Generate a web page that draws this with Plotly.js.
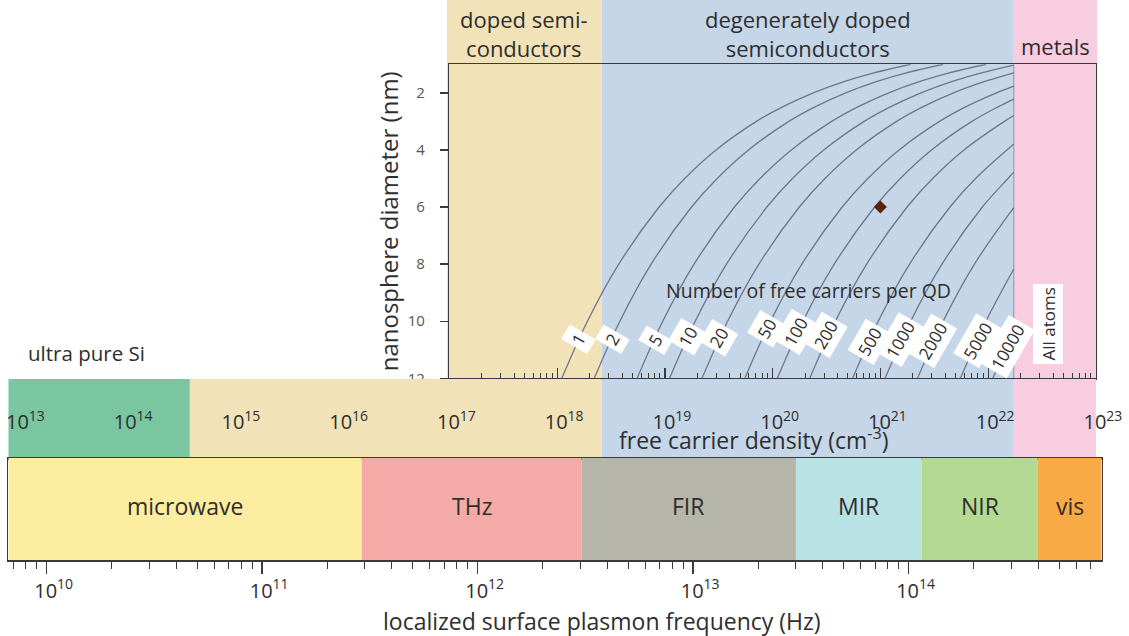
<!DOCTYPE html>
<html><head><meta charset="utf-8">
<script src="https://cdn.plot.ly/plotly-3.0.1.min.js"></script>
<style>html,body{margin:0;padding:0;background:#fff}#chart{width:1129px;height:636px}</style>
</head><body><div id="chart"></div>
<script>
// ---------------- data ----------------
const diameterNm = [12, 10, 8, 6, 5, 4, 3, 2.5, 2, 1.6, 1.3, 1.0];
const carrierLabels = ['1','2','5','10','20','50','100','200','500','1000','2000','5000','10000'];
// free carrier density (cm^-3) of each iso-carrier curve at the diameters above (null = inside metals region)
const curve1     = [1.105e18, 1.910e18, 3.730e18, 8.842e18, 1.528e19, 2.984e19, 7.074e19, 1.222e20, 2.387e20, 4.663e20, 8.693e20, 1.910e21];
const curve2     = [2.210e18, 3.820e18, 7.460e18, 1.768e19, 3.056e19, 5.968e19, 1.415e20, 2.444e20, 4.774e20, 9.326e20, 1.739e21, 3.820e21];
const curve5     = [5.525e18, 9.550e18, 1.865e19, 4.421e19, 7.640e19, 1.492e20, 3.537e20, 6.110e20, 1.194e21, 2.332e21, 4.347e21, 9.550e21];
const curve10    = [1.105e19, 1.910e19, 3.730e19, 8.842e19, 1.528e20, 2.984e20, 7.074e20, 1.222e21, 2.387e21, 4.663e21, 8.693e21, null];
const curve20    = [2.210e19, 3.820e19, 7.460e19, 1.768e20, 3.056e20, 5.968e20, 1.415e21, 2.444e21, 4.774e21, 9.326e21, null, null];
const curve50    = [5.525e19, 9.550e19, 1.865e20, 4.421e20, 7.640e20, 1.492e21, 3.537e21, 6.110e21, 1.194e22, null, null, null];
const curve100   = [1.105e20, 1.910e20, 3.730e20, 8.842e20, 1.528e21, 2.984e21, 7.074e21, 1.222e22, null, null, null, null];
const curve200   = [2.210e20, 3.820e20, 7.460e20, 1.768e21, 3.056e21, 5.968e21, 1.415e22, null, null, null, null, null];
const curve500   = [5.525e20, 9.550e20, 1.865e21, 4.421e21, 7.640e21, 1.492e22, null, null, null, null, null, null];
const curve1000  = [1.105e21, 1.910e21, 3.730e21, 8.842e21, 1.528e22, null, null, null, null, null, null, null];
const curve2000  = [2.210e21, 3.820e21, 7.460e21, null, null, null, null, null, null, null, null, null];
const curve5000  = [5.525e21, 9.550e21, null, null, null, null, null, null, null, null, null, null];
const curve10000 = [1.105e22, null, null, null, null, null, null, null, null, null, null, null];
const densityCurves = [curve1, curve2, curve5, curve10, curve20, curve50, curve100, curve200, curve500, curve1000, curve2000, curve5000, curve10000];
// diameter at which each curve meets the metals boundary (null = reaches 1 nm)
const edgeDiameter = [null, null, null, 1.029, 1.297, 1.761, 2.218, 2.795, 3.793, 4.779, 6.021, 8.172, 10.296];
const metalsOnset = 1.73e22;
const sampleDensity = [1e21];
const sampleDiameter = [6];

const columnNames = ['doped semi-<br>conductors', 'degenerately doped<br>semiconductors', 'metals'];
const columnEdges = [9.5e16, 2.6e18, 1.73e22, 1.036e23];
const densityBandNames = ['ultra pure Si', 'doped', 'degenerate', 'metals'];
const densityBandEdges = [8.05e12, 3.9e14, 2.6e18, 1.73e22, 1.0e23];
const freqBandNames = ['microwave', 'THz', 'FIR', 'MIR', 'NIR', 'vis'];
const freqBandEdges = [6.64e9, 2.9e11, 3.03e12, 3.0e13, 1.15e14, 3.97e14, 7.87e14];
const densityTickVals = [1e13,1e14,1e15,1e16,1e17,1e18,1e19,1e20,1e21,1e22,1e23];
const densityTickText = ['10<sup>13</sup>','10<sup>14</sup>','10<sup>15</sup>','10<sup>16</sup>','10<sup>17</sup>','10<sup>18</sup>','10<sup>19</sup>','10<sup>20</sup>','10<sup>21</sup>','10<sup>22</sup>','10<sup>23</sup>'];
const freqTickVals = [1e10,1e11,1e12,1e13,1e14];
const freqTickText = ['10<sup>10</sup>','10<sup>11</sup>','10<sup>12</sup>','10<sup>13</sup>','10<sup>14</sup>'];
const diameterTicks = [2,4,6,8,10,12];

// ---------------- styles ----------------
const columnColors = ['#f2e2b8', '#c5d6e8', '#f8cde0'];
const densityBandColors = ['#79c6a1', '#f2e2b8', '#c5d6e8', '#f8cde0'];
const freqBandColors = ['#fdeda0', '#f4aaa6', '#b5b5aa', '#b9e2e5', '#b4d993', '#f7aa45'];
const TXT = '#2e2e2e';
const W = 1129, H = 636;
const px = v => v / W;
const py = v => 1 - v / H;
const FONT = 'Open Sans, Lato, sans-serif';

function minorTicks(lo, hi) {
  const out = [];
  for (let e = lo; e <= hi; e++) for (let k = 2; k <= 9; k++) out.push(k * Math.pow(10, e));
  return out;
}

const traces = [];
function rect(xa, ya, lo, hi, color) {
  traces.push({x: [lo, hi, hi, lo, lo], y: [0, 0, 1, 1, 0], xaxis: xa, yaxis: ya, mode: 'lines',
    fill: 'toself', fillcolor: color, line: {width: 0, color: 'rgba(0,0,0,0)'}, hoverinfo: 'skip', showlegend: false});
}
for (let i = 0; i < columnNames.length; i++) rect('x', 'y', columnEdges[i], columnEdges[i+1], columnColors[i]);
for (let i = 0; i < densityBandNames.length; i++) rect('x3', 'y3', densityBandEdges[i], densityBandEdges[i+1], densityBandColors[i]);
for (let i = 0; i < freqBandNames.length; i++) rect('x5', 'y5', freqBandEdges[i], freqBandEdges[i+1], freqBandColors[i]);

// dummy for the label-only density axis
traces.push({x: [1e15], y: [0.5], xaxis: 'x4', yaxis: 'y3', mode: 'markers', marker: {opacity: 0}, hoverinfo: 'skip', showlegend: false});

// metals boundary line in top plot
traces.push({x: [metalsOnset, metalsOnset], y: [1, 12], xaxis: 'x2', yaxis: 'y2', mode: 'lines',
  line: {color: '#8b91b3', width: 1}, hoverinfo: 'skip', showlegend: false});

// iso-carrier curves
densityCurves.forEach((c, i) => {
  const xs = [], ys = [];
  c.forEach((v, j) => { if (v !== null) { xs.push(v); ys.push(diameterNm[j]); } });
  if (edgeDiameter[i] !== null) { xs.push(metalsOnset); ys.push(edgeDiameter[i]); }
  traces.push({x: xs, y: ys, xaxis: 'x2', yaxis: 'y2', mode: 'lines', name: carrierLabels[i],
    line: {color: '#6f7589', width: 1.3, shape: 'spline', smoothing: 1}, hoverinfo: 'skip', showlegend: false});
});
traces.push({x: sampleDensity, y: sampleDiameter, xaxis: 'x2', yaxis: 'y2', mode: 'markers',
  marker: {symbol: 'diamond', size: 10, color: '#5a2208'}, hoverinfo: 'skip', showlegend: false});

const hidden = {showgrid: false, zeroline: false, showticklabels: false, ticks: '', showline: false};
const lineC = '#3a3a3a';

const layout = {
  width: W, height: H, margin: {l: 0, r: 0, t: 0, b: 0},
  paper_bgcolor: '#fff', plot_bgcolor: 'rgba(0,0,0,0)',
  font: {family: FONT, color: TXT}, showlegend: false, hovermode: false,
  // column backgrounds (top region)
  xaxis: Object.assign({}, hidden, {type: 'log', domain: [px(447), px(1097.5)], range: [16.978, 23.015], anchor: 'y'}),
  yaxis: Object.assign({}, hidden, {domain: [py(378.5), 1], range: [0, 1], anchor: 'x'}),
  // top plot
  xaxis2: {type: 'log', domain: [px(449.4), px(1095.9)], range: [17, 23], anchor: 'y2',
    showline: true, mirror: true, linecolor: lineC, linewidth: 1.5, showgrid: false, zeroline: false,
    ticks: 'inside', ticklen: 10, tickwidth: 1.3, tickcolor: lineC, tickmode: 'array', tickvals: densityTickVals, showticklabels: false,
    minor: {ticks: 'inside', ticklen: 5, tickwidth: 1, tickcolor: lineC, tickmode: 'array', tickvals: minorTicks(17, 22)}},
  yaxis2: {domain: [py(378.3), py(64.3)], range: [12, 1], anchor: 'x2',
    showline: true, mirror: true, linecolor: lineC, linewidth: 1.5, showgrid: false, zeroline: false,
    ticks: 'outside', ticklen: 8, tickwidth: 1.3, tickcolor: lineC, tickmode: 'array', tickvals: diameterTicks,
    tickfont: {size: 15, color: '#555'}, ticklabelstandoff: 12,
    title: {text: 'nanosphere diameter (nm)', font: {size: 24, color: TXT}, standoff: 2}},
  // middle band
  xaxis3: {type: 'log', domain: [px(8.3), px(1101.7)], range: [12.906, 23.054], anchor: 'y3',
    showline: true, linecolor: lineC, linewidth: 1.5, showgrid: false, zeroline: false,
    ticks: 'outside', ticklen: 12, tickwidth: 1.3, tickcolor: lineC, tickmode: 'array', tickvals: densityTickVals, showticklabels: false,
    minor: {ticks: 'outside', ticklen: 7, tickwidth: 1, tickcolor: lineC, tickmode: 'array', tickvals: minorTicks(12, 22)}},
  yaxis3: Object.assign({}, hidden, {domain: [py(458), py(379)], range: [0, 1], anchor: 'x3'}),
  xaxis4: {type: 'log', domain: [px(8.3), px(1101.7)], range: [12.906, 23.054], anchor: 'free', position: py(408), overlaying: 'x3',
    showline: false, showgrid: false, zeroline: false, ticks: '', tickmode: 'array', tickvals: densityTickVals, ticktext: densityTickText,
    tickfont: {size: 20, color: TXT}, ticklabeloverflow: 'allow', ticklabelshift: 7},
  // bottom band
  xaxis5: {type: 'log', domain: [px(8.3), px(1101.7)], range: [9.822, 14.896], anchor: 'y5',
    showline: true, mirror: true, linecolor: lineC, linewidth: 1.5, showgrid: false, zeroline: false,
    ticks: 'outside', ticklen: 12, tickwidth: 1.3, tickcolor: lineC, tickmode: 'array', tickvals: freqTickVals, ticktext: freqTickText,
    tickfont: {size: 20, color: TXT}, ticklabelshift: 7, ticklabeloverflow: 'allow',
    minor: {ticks: 'outside', ticklen: 7, tickwidth: 1, tickcolor: lineC, tickmode: 'array', tickvals: minorTicks(9, 14)}},
  yaxis5: {domain: [py(560), py(458)], range: [0, 1], anchor: 'x5', showline: true, mirror: true, linecolor: lineC, linewidth: 1.5,
    showgrid: false, zeroline: false, ticks: '', showticklabels: false},
  annotations: []
};

const ann = layout.annotations;
function note(o) { ann.push(Object.assign({showarrow: false, xanchor: 'center', yanchor: 'middle'}, o)); }
// column labels
columnNames.forEach((t, i) => {
  const c = (Math.log10(columnEdges[i]) + Math.log10(columnEdges[i+1])) / 2;
  note({xref: 'x', yref: 'paper', x: c, y: i === 2 ? py(46) : py(33), text: t, font: {size: 22, color: TXT}});
});
// frequency band labels
freqBandNames.forEach((t, i) => {
  const c = (Math.log10(freqBandEdges[i]) + Math.log10(freqBandEdges[i+1])) / 2;
  note({xref: 'x5', yref: 'paper', x: c, y: py(506), text: t, font: {size: 23, color: TXT}});
});
note({xref: 'paper', yref: 'paper', x: px(86), y: py(353), text: 'ultra pure Si', font: {size: 20.5, color: TXT}});
note({xref: 'paper', yref: 'paper', x: px(753), y: py(439), text: 'free carrier density (cm<sup>-3</sup>)', font: {size: 23, color: TXT}});
note({xref: 'paper', yref: 'paper', x: px(602), y: py(621), text: 'localized surface plasmon frequency (Hz)', font: {size: 23, color: TXT}});
note({xref: 'paper', yref: 'paper', x: px(808), y: py(290), text: 'Number of free carriers per QD', font: {size: 19.5, color: TXT}});
// curve labels
const labelPos = [[578,339],[612,339],[655,340],[687,337],[718,338],[766,329],[795,332],[825,335],[869,342],[900,339],[932,341],[977,341],[1007,347]];
carrierLabels.forEach((t, i) => {
  note({xref: 'paper', yref: 'paper', x: px(labelPos[i][0]), y: py(labelPos[i][1]), text: t,
    textangle: -60, bgcolor: '#ffffff', borderpad: 3, font: {size: 17, color: TXT}});
});
note({xref: 'paper', yref: 'paper', x: px(1047.5), y: py(324), text: 'All atoms',
  textangle: -90, bgcolor: '#ffffff', borderpad: 3, font: {size: 17, color: TXT}});

Plotly.newPlot('chart', traces, layout, {displayModeBar: false, staticPlot: true});
</script>
</body></html>
